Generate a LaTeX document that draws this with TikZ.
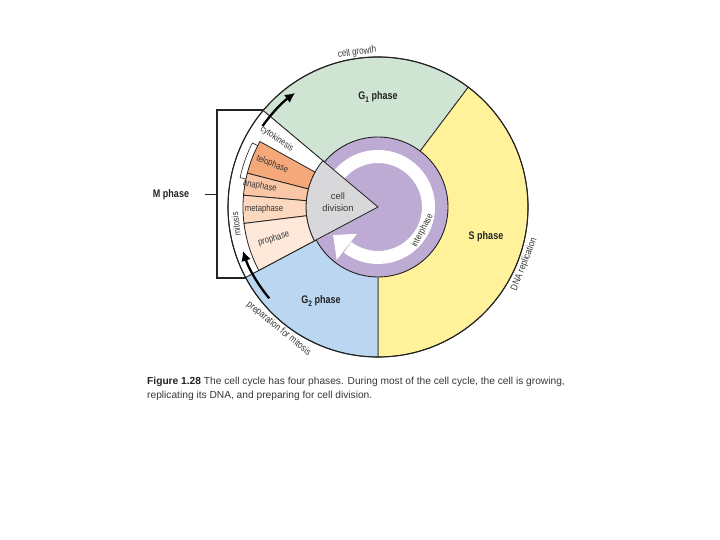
\documentclass[tikz,border=0pt]{standalone}
\usepackage{fontspec}
\setmainfont{Liberation Sans}
\newfontfamily\cond[FakeStretch=0.82]{Liberation Sans}
\usetikzlibrary{arrows.meta}
\definecolor{gone}{RGB}{208,228,211}
\definecolor{sph}{RGB}{255,242,155}
\definecolor{gtwo}{RGB}{186,214,240}
\definecolor{purp}{RGB}{190,171,212}
\definecolor{grayc}{RGB}{216,216,218}
\definecolor{telo}{RGB}{245,168,122}
\definecolor{ana}{RGB}{249,199,165}
\definecolor{meta}{RGB}{251,216,190}
\definecolor{pro}{RGB}{253,232,218}
\definecolor{ink}{RGB}{35,35,35}
\definecolor{soft}{RGB}{55,55,55}
\newcommand\mwedge[4]{\filldraw[fill=#3, edge] (#1:72) -- (#1:#4) arc[start angle=#1,end angle=#2,radius=#4] -- (#2:72) arc[start angle=#2,end angle=#1,radius=72] -- cycle;}
\newcommand\subnum[1]{\raisebox{-2.2pt}{\fontsize{8}{8}\selectfont #1}}
\begin{document}
\begin{tikzpicture}[x=1pt,y=1pt,
  edge/.style={draw=ink, line width=0.8pt},
  lab/.style={font=\cond\fontsize{9.4}{10}\selectfont, text=soft, inner sep=0},
  olab/.style={font=\cond\fontsize{9.8}{10}\selectfont, text=soft, inner sep=0},
  phase/.style={font=\cond\bfseries\fontsize{11}{12}\selectfont, text=ink, inner sep=0},
  blk/.style={line width=2.3pt, draw=black, -{Latex[length=10pt,width=10pt]}},
]
\useasboundingbox (0,0) rectangle (720,540);
\fill[white] (0,0) rectangle (720,540);
\coordinate (C) at (378,333);
\begin{scope}[shift={(378,333)}]
% outer sectors
\filldraw[fill=gone, edge] (0,0) -- (53:150) arc[start angle=53, end angle=140, radius=150] -- cycle;
\filldraw[fill=sph, edge] (0,0) -- (-90:150) arc[start angle=-90, end angle=53, radius=150] -- cycle;
\filldraw[fill=gtwo, edge] (0,0) -- (208:150) arc[start angle=208, end angle=270, radius=150] -- cycle;
\filldraw[fill=white, edge] (0,0) -- (140:150) arc[start angle=140, end angle=208, radius=150] -- cycle;
% interphase disk and white arrow
\filldraw[fill=purp, draw=ink, line width=0.9pt] (0,0) circle[radius=70];
\draw[white, line width=13pt] (140:50.5) arc[start angle=140, end angle=-127, radius=50.5];
\fill[white] (-128:34) -- (-128:67) -- (-148:53) -- cycle;
% cell division sector
\filldraw[fill=grayc, edge] (0,0) -- (140:72) arc[start angle=140, end angle=208, radius=72] -- cycle;
% mitosis wedges
\mwedge{151}{165.5}{telo}{135}
\mwedge{165.5}{175}{ana}{135}
\mwedge{175}{187}{meta}{135}
\mwedge{187}{208}{pro}{135}
% small strip
\draw[draw=ink, line width=0.6pt] (153:135) -- (153:141) arc[start angle=153, end angle=168, radius=141] -- (168:135);
% outer circle
\draw[ink, line width=1.1pt] (0,0) circle[radius=150];
% black arrows
\draw[blk] (145:141) arc[start angle=145, end angle=126, radius=141];
\draw[blk] (220:142) arc[start angle=220, end angle=198, radius=142];
% labels in the circle
\node[phase] (g1) at (0,110) {G\subnum{1} phase};
\node[phase] (sp) at (108,-30) {S phase};
\node[phase] (g2) at (-57,-94) {G\subnum{2} phase};
\node[inner sep=0, align=center, font=\fontsize{9.4}{11.5}\selectfont, text=soft] (cd) at (-40,5) {cell\\division};
\node[lab, rotate=-34] (cyto) at (146:122) {cytokinesis};
\node[lab, rotate=-22] (telol) at (158:114) {telophase};
\node[lab, rotate=-10] (anal) at (170:120) {anaphase};
\node[lab, rotate=0] (metal) at (181:114) {metaphase};
\node[lab, rotate=17] (prol) at (197:109) {prophase};
\node[lab, rotate=97] (mito) at (187:143) {mitosis};
\node[lab, rotate=62] (inter) at (-28:50.5) {interphase};
% labels outside
\node[olab, rotate=7.7] (grow) at (97.7:156) {cell growth};
\node[olab, rotate=68.6] (dna) at (-21.4:157) {DNA replication};
\node[olab, rotate=-39.2] (prep) at (230.8:157) {preparation for mitosis};
\end{scope}
% M phase bracket
\coordinate (bt) at (263.6,430);
\coordinate (bb) at (245.9,262);
\draw[line width=1.3pt, ink] (bt) -- (217,430) -- (217,262) -- (bb);
\node[phase] (mph) at (171,345) {M phase};
\draw[line width=1pt, ink] (205,345) -- (217,345);
% caption
\node[anchor=base west, inner sep=0, font=\fontsize{10.2}{12}\selectfont, text=soft] (cap1) at (147,155.5) {\textcolor{ink}{\textbf{Figure 1.28}} The cell cycle has four phases. During most of the cell cycle, the cell is growing,};
\node[anchor=base west, inner sep=0, font=\fontsize{10.2}{12}\selectfont, text=soft] (cap2) at (147,141.5) {replicating its DNA, and preparing for cell division.};
\end{tikzpicture}
\end{document}
